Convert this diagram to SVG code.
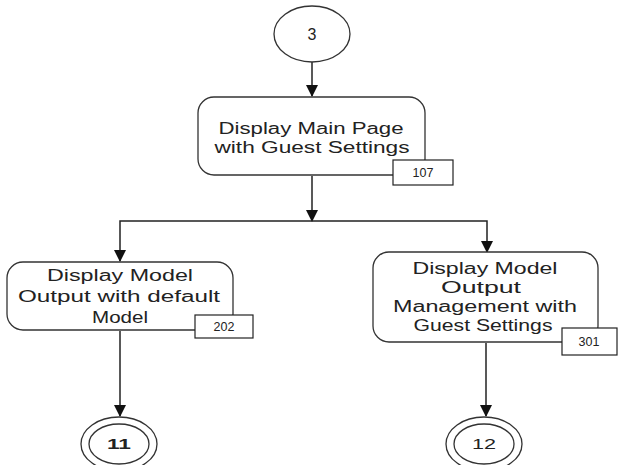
<svg xmlns="http://www.w3.org/2000/svg" width="618" height="465" viewBox="0 0 618 465">
  <style>
    .shape { fill: #ffffff; stroke: #333333; stroke-width: 1.3; }
    .tag { fill: #ffffff; stroke: #222222; stroke-width: 1.2; }
    .wire { fill: none; stroke: #222222; stroke-width: 1.5; }
    .label { font-family: "Liberation Sans", Arial, sans-serif; font-size: 16px; fill: #222222; text-anchor: middle; }
    .num { font-family: "Liberation Sans", Arial, sans-serif; font-size: 12.5px; fill: #222222; text-anchor: middle; }
    .end { font-family: "Liberation Sans", Arial, sans-serif; font-size: 15px; fill: #222222; text-anchor: middle; }
  </style>
  <defs>
    <marker id="arrow" markerWidth="12" markerHeight="12" refX="11" refY="6" orient="auto" markerUnits="userSpaceOnUse">
      <path d="M0,0 L12,6 L0,12 Z" fill="#111111"/>
    </marker>
  </defs>

  <rect x="0" y="0" width="618" height="465" fill="#ffffff"/>

  <!-- connectors -->
  <g id="connectors">
    <path class="wire" d="M312 62 V96" marker-end="url(#arrow)"/>
    <path class="wire" d="M312 176 V221" marker-end="url(#arrow)"/>
    <path class="wire" d="M312 221 H120 V261" marker-end="url(#arrow)"/>
    <path class="wire" d="M312 221 H487 V252" marker-end="url(#arrow)"/>
    <path class="wire" d="M120 331 V416" marker-end="url(#arrow)"/>
    <path class="wire" d="M486 343 V416" marker-end="url(#arrow)"/>
  </g>

  <!-- entry connector 3 -->
  <g id="start-3">
    <ellipse class="shape" cx="312" cy="34" rx="38" ry="28"/>
    <text class="label" x="312" y="40">3</text>
  </g>

  <!-- step 107 -->
  <g id="step-107">
    <rect class="shape" x="198" y="97" width="227" height="78" rx="16" ry="16"/>
    <text class="label" x="311" y="134" textLength="185" lengthAdjust="spacingAndGlyphs">Display Main Page</text>
    <text class="label" x="312" y="153" textLength="195" lengthAdjust="spacingAndGlyphs">with Guest Settings</text>
    <rect class="tag" x="393" y="160" width="60" height="25"/>
    <text class="num" x="423" y="177">107</text>
  </g>

  <!-- step 202 -->
  <g id="step-202">
    <rect class="shape" x="7" y="262" width="226" height="68" rx="16" ry="16"/>
    <text class="label" x="120" y="281" textLength="146" lengthAdjust="spacingAndGlyphs">Display Model</text>
    <text class="label" x="119" y="302" textLength="202" lengthAdjust="spacingAndGlyphs">Output with default</text>
    <text class="label" x="120" y="323" textLength="56" lengthAdjust="spacingAndGlyphs">Model</text>
    <rect class="tag" x="195" y="315" width="58" height="23"/>
    <text class="num" x="224" y="331">202</text>
  </g>

  <!-- step 301 -->
  <g id="step-301">
    <rect class="shape" x="373" y="252" width="225" height="90" rx="16" ry="16"/>
    <text class="label" x="485" y="274" textLength="145" lengthAdjust="spacingAndGlyphs">Display Model</text>
    <text class="label" x="481" y="293" textLength="80" lengthAdjust="spacingAndGlyphs">Output</text>
    <text class="label" x="485" y="312" textLength="184" lengthAdjust="spacingAndGlyphs">Management with</text>
    <text class="label" x="483" y="331" textLength="139" lengthAdjust="spacingAndGlyphs">Guest Settings</text>
    <rect class="tag" x="562" y="328" width="55" height="27"/>
    <text class="num" x="589" y="346">301</text>
  </g>

  <!-- exit connector 11 -->
  <g id="end-11">
    <ellipse class="shape" cx="119" cy="444" rx="38" ry="27"/>
    <ellipse class="shape" cx="119" cy="444" rx="30" ry="20"/>
    <text class="end" x="119" y="449" font-weight="bold" textLength="24" lengthAdjust="spacingAndGlyphs">11</text>
  </g>

  <!-- exit connector 12 -->
  <g id="end-12">
    <ellipse class="shape" cx="484" cy="444" rx="38" ry="27"/>
    <ellipse class="shape" cx="484" cy="444" rx="30" ry="20"/>
    <text class="end" x="484" y="449" textLength="24" lengthAdjust="spacingAndGlyphs">12</text>
  </g>
</svg>
